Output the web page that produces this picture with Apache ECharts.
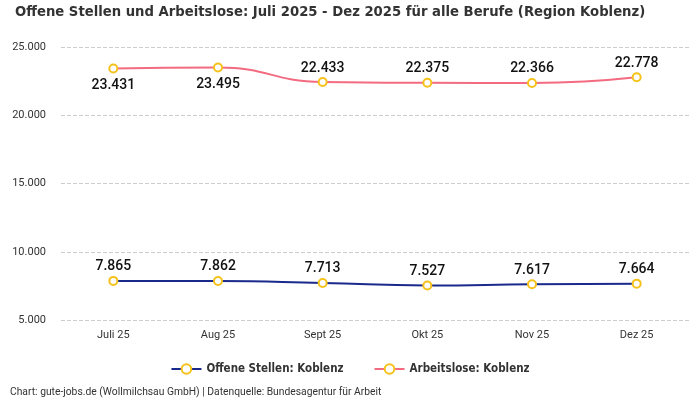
<!DOCTYPE html>
<html><head><meta charset="utf-8">
<script src="https://cdn.jsdelivr.net/npm/echarts@6/dist/echarts.min.js"></script>
<style>html,body{margin:0;padding:0;background:#fff}#c{width:700px;height:400px}</style>
</head><body><div id="c"></div>
<script>
const categories = ['Juli 25','Aug 25','Sept 25','Okt 25','Nov 25','Dez 25'];
const offeneStellen = [7865, 7862, 7713, 7527, 7617, 7664];
const arbeitslose = [23431, 23495, 22433, 22375, 22366, 22778];
const arbeitsloseLabelPos = ['bottom','bottom','top','top','top','top'];
const fmt = v => v.toLocaleString('de-DE');
const cond = '"Liberation Sans Narrow","DejaVu Sans Condensed",sans-serif';
const chart = echarts.init(document.getElementById('c'));
chart.setOption({
  animation:false,
  title:{text:'Offene Stellen und Arbeitslose: Juli 2025 - Dez 2025 für alle Berufe (Region Koblenz)',left:10,top:0,
    textStyle:{fontFamily:cond,fontWeight:'bold',fontSize:14.7,color:'#333'}},
  grid:{left:61,right:11,top:47,bottom:80},
  legend:{bottom:20,left:'center',itemGap:30,itemWidth:30,itemHeight:12,
    data:[
      {name:'Offene Stellen: Koblenz',itemStyle:{color:'#f5c21b'},lineStyle:{color:'#1a2a8c'}},
      {name:'Arbeitslose: Koblenz',itemStyle:{color:'#f5c21b'},lineStyle:{color:'#f26b80'}}],
    textStyle:{fontFamily:cond,fontWeight:'bold',fontSize:11.5,color:'#333'}},
  graphic:[{type:'text',left:10,bottom:3,style:{text:'Chart: gute-jobs.de (Wollmilchsau GmbH) | Datenquelle: Bundesagentur für Arbeit',
    fontFamily:'Roboto,sans-serif',fontSize:10.3,fill:'#333'}}],
  xAxis:{type:'category',data:categories,axisLine:{show:false},axisTick:{show:false},
    axisLabel:{fontFamily:'Roboto,sans-serif',fontSize:11,color:'#333',margin:10}},
  yAxis:{type:'value',min:5000,max:25000,interval:5000,
    axisLabel:{formatter:fmt,fontFamily:'Roboto,sans-serif',fontSize:11,color:'#333',margin:15},
    splitLine:{lineStyle:{type:'dashed',color:'#ccc'}}},
  series:[
    {name:'Offene Stellen: Koblenz',type:'line',smooth:true,data:offeneStellen,
     symbol:'emptyCircle',symbolSize:8,
     itemStyle:{color:'#f5c21b',borderWidth:2},
     lineStyle:{color:'#1a2a8c',width:2},
     label:{show:true,position:'top',distance:2,formatter:p=>fmt(p.value),fontFamily:'Roboto,sans-serif',fontSize:14,fontWeight:500,color:'#111'}},
    {name:'Arbeitslose: Koblenz',type:'line',smooth:true,
     data:arbeitslose.map((v,i)=>({value:v,label:{position:arbeitsloseLabelPos[i],distance:arbeitsloseLabelPos[i]==='bottom'?5:2}})),
     symbol:'emptyCircle',symbolSize:8,
     itemStyle:{color:'#f5c21b',borderWidth:2},
     lineStyle:{color:'#f26b80',width:2},
     label:{show:true,distance:2,formatter:p=>fmt(p.value),fontFamily:'Roboto,sans-serif',fontSize:14,fontWeight:500,color:'#111'}}
  ]
});
</script></body></html>
